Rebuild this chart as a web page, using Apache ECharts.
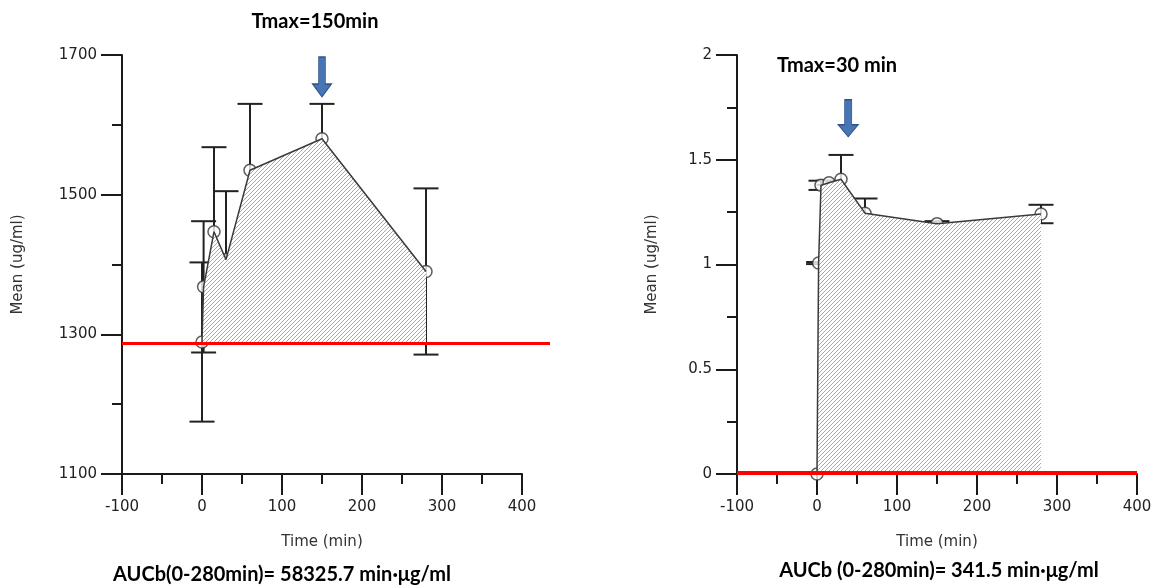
<!DOCTYPE html>
<html><head><meta charset="utf-8">
<script src="https://cdn.jsdelivr.net/npm/echarts@6/dist/echarts.min.js"></script>
<style>html,body{margin:0;padding:0;background:#fff}#c{width:1153px;height:587px}</style>
</head><body><div id="c"></div>
<script>
// ---------- Left panel data ----------
const leftTimes = [0, 2, 15, 30, 60, 150, 280];
const leftMean  = [1289, 1368, 1447, 1407, 1535, 1580, 1390];
const leftErr   = [114, 94, 121, 98, 95, 50, 119];
const leftBaseline = 1287;
const leftBaselineSpan = [-100, 435];
const leftTmaxArrow = [150, 1640];
const leftYTicks = [1100, 1300, 1500, 1700];

// ---------- Right panel data ----------
const rightTimes = [0, 2, 5, 15, 30, 60, 150, 280];
const rightMean  = [0, 1.007, 1.378, 1.39, 1.407, 1.245, 1.195, 1.241];
const rightErr   = [0, 0.005, 0.022, 0.01, 0.116, 0.07, 0.012, 0.044];
const rightBaseline = 0.005;
const rightBaselineSpan = [-100, 400];
const rightTmaxArrow = [39, 1.61];
const rightYTicks = [0, 0.5, 1, 1.5, 2];

const xTicks = [-100, 0, 100, 200, 300, 400];

// ---------- Texts ----------
const leftTitle = 'Tmax=150min';
const rightTitle = 'Tmax=30 min';
const leftAUC = 'AUCb(0-280min)= 58325.7 min·μg/ml';
const rightAUC = 'AUCb (0-280min)= 341.5 min·μg/ml';
const xName = 'Time (min)';
const yName = 'Mean (ug/ml)';

// hatch pattern
const hatch = document.createElement('canvas');
hatch.width = 4; hatch.height = 4;
(function(){
  const g = hatch.getContext('2d');
  g.fillStyle = '#ffffff'; g.fillRect(0,0,4,4);
  g.strokeStyle = '#a8a8a8'; g.lineWidth = 1;
  g.beginPath();
  g.moveTo(0,4); g.lineTo(4,0);
  g.moveTo(-1,1); g.lineTo(1,-1);
  g.moveTo(3,5); g.lineTo(5,3);
  g.stroke();
})();

const axisColor = '#1a1a1a';

function labelStyle(margin) {
  return {
    margin: margin, showMinLabel: true, showMaxLabel: true, hideOverlap: false,
    fontFamily: 'DejaVu Sans', fontSize: 15, color: '#222',
    formatter: function (v) { return String(v); }
  };
}

function xAxis(gridIndex) {
  return {
    type: 'value', gridIndex,
    min: xTicks[0], max: xTicks[xTicks.length-1], interval: xTicks[1]-xTicks[0],
    axisLine: {show: true, onZero: false, lineStyle: {color: axisColor, width: 2}},
    axisTick: {show: true, length: 21, lineStyle: {color: axisColor, width: 2}},
    minorTick: {show: true, splitNumber: 2, length: 10, lineStyle: {color: axisColor, width: 2}},
    splitLine: {show: false}, minorSplitLine: {show: false},
    axisLabel: labelStyle(26),
    name: xName, nameLocation: 'middle', nameGap: 61,
    nameTextStyle: {fontFamily: 'DejaVu Sans', fontSize: 15, color: '#333'}
  };
}
function yAxis(gridIndex, ticks, gap) {
  return {
    type: 'value', gridIndex,
    min: ticks[0], max: ticks[ticks.length-1], interval: ticks[1]-ticks[0],
    axisLine: {show: true, onZero: false, lineStyle: {color: axisColor, width: 2}},
    axisTick: {show: true, length: 21, lineStyle: {color: axisColor, width: 2}},
    minorTick: {show: true, splitNumber: 2, length: 10, lineStyle: {color: axisColor, width: 2}},
    splitLine: {show: false}, minorSplitLine: {show: false},
    axisLabel: labelStyle(25),
    name: yName, nameLocation: 'middle', nameGap: gap, nameRotate: 90,
    nameTextStyle: {fontFamily: 'DejaVu Sans', fontSize: 15, color: '#333'}
  };
}

function errorSeries(idx, times, mean, err) {
  return {
    type: 'custom', xAxisIndex: idx, yAxisIndex: idx, z: 2, silent: true,
    data: times.map((t, i) => [t, mean[i], err[i]]),
    encode: {x: 0, y: 1},
    renderItem: function (params, api) {
      const t = api.value(0), m = api.value(1), e = api.value(2);
      const hi = api.coord([t, m + e]), lo = api.coord([t, m - e]);
      const w = 12.5;
      const st = {stroke: '#222', lineWidth: 2};
      return {type: 'group', children: [
        {type: 'line', shape: {x1: hi[0], y1: hi[1], x2: lo[0], y2: lo[1]}, style: st},
        {type: 'line', shape: {x1: hi[0]-w, y1: hi[1], x2: hi[0]+w, y2: hi[1]}, style: st},
        {type: 'line', shape: {x1: lo[0]-w, y1: lo[1], x2: lo[0]+w, y2: lo[1]}, style: st}
      ]};
    }
  };
}
function circleSeries(idx, times, mean) {
  return {
    type: 'scatter', xAxisIndex: idx, yAxisIndex: idx, z: 3, silent: true,
    symbol: 'circle', symbolSize: 12,
    itemStyle: {color: '#fff', borderColor: '#333', borderWidth: 1.5},
    data: times.map((t, i) => [t, mean[i]])
  };
}
const arrowPath = 'path://M6.5,0 L13.5,0 L13.5,25 L20,25 L10,37 L0,25 L6.5,25 Z';
function areaSeries(idx, times, mean, base, arrow, arrowSize) {
  return {
    type: 'line', xAxisIndex: idx, yAxisIndex: idx, z: 4, silent: true,
    showSymbol: false, symbol: 'none',
    lineStyle: {color: '#3a3a3a', width: 1.5},
    areaStyle: {origin: base, color: {image: hatch, repeat: 'repeat'}, opacity: 1},
    data: times.map((t, i) => [t, mean[i]]),
    markPoint: {
      silent: true,
      symbol: arrowPath, symbolSize: arrowSize, symbolOffset: [0, '-50%'], symbolKeepAspect: false,
      itemStyle: {color: '#4876b4', borderColor: '#2f5288', borderWidth: 1},
      label: {show: false},
      data: [{coord: arrow}]
    }
  };
}
function baselineSeries(idx, span, base, width) {
  return {
    type: 'line', xAxisIndex: idx, yAxisIndex: idx, z: 5, silent: true,
    showSymbol: false, symbol: 'none',
    lineStyle: {color: '#ff0000', width: width},
    data: span.map(x => [x, base])
  };
}

function textEl(str, x, y, size) {
  return {type: 'text', x: x, y: y, z: 10, silent: true,
    style: {text: str, fill: '#000', font: 'bold ' + size + 'px Lato',
      textAlign: 'center', textVerticalAlign: 'middle', align: 'center', verticalAlign: 'middle'}};
}

const chart = echarts.init(document.getElementById('c'), null, {renderer: 'canvas'});
chart.setOption({
  backgroundColor: '#ffffff',
  animation: false,
  grid: [
    {left: 122, top: 55, width: 400, height: 419, outerBoundsMode: 'none', containLabel: false},
    {left: 737, top: 55, width: 400, height: 419, outerBoundsMode: 'none', containLabel: false}
  ],
  xAxis: [xAxis(0), xAxis(1)],
  yAxis: [yAxis(0, leftYTicks, 96), yAxis(1, rightYTicks, 77)],
  series: [
    errorSeries(0, leftTimes, leftMean, leftErr),
    circleSeries(0, leftTimes, leftMean),
    areaSeries(0, leftTimes, leftMean, leftBaseline, leftTmaxArrow, [19, 40]),
    errorSeries(1, rightTimes, rightMean, rightErr),
    circleSeries(1, rightTimes, rightMean),
    areaSeries(1, rightTimes, rightMean, rightBaseline, rightTmaxArrow, [20, 37]),
    baselineSeries(1, rightBaselineSpan, rightBaseline, 4)
  ]
});

// Left baseline extends beyond the axis end: place it through the library's scale
const p0 = chart.convertToPixel({gridIndex: 0}, [leftBaselineSpan[0], leftBaseline]);
const p1 = chart.convertToPixel({gridIndex: 0}, [leftBaselineSpan[1], leftBaseline]);
chart.setOption({
  graphic: [
    {type: 'line', z: 5, silent: true, shape: {x1: p0[0], y1: p0[1], x2: p1[0], y2: p1[1]},
      style: {stroke: '#ff0000', lineWidth: 3}},
    textEl(leftTitle, 315, 22, 20),
    textEl(rightTitle, 837, 66, 20),
    textEl(leftAUC, 282, 575, 20),
    textEl(rightAUC, 939, 571, 20)
  ]
});
</script>
</body></html>
